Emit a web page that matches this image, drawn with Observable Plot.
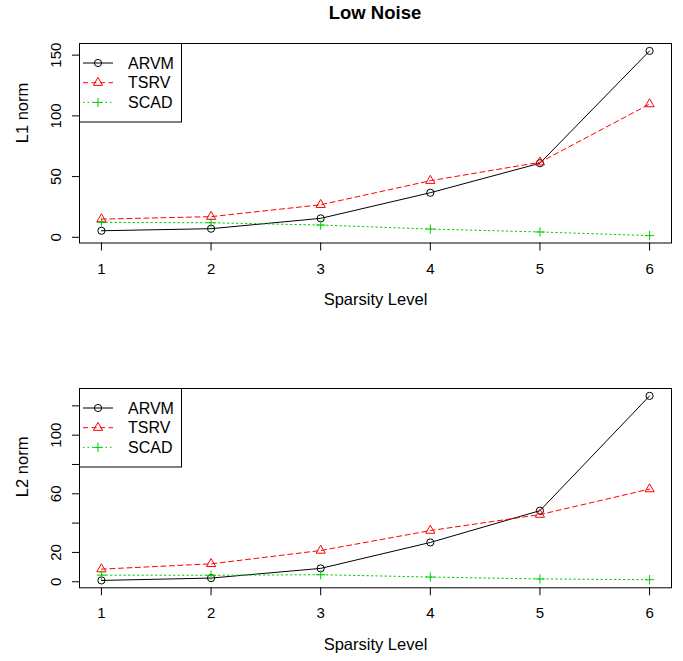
<!DOCTYPE html>
<html><head><meta charset="utf-8">
<script src="https://cdn.jsdelivr.net/npm/d3@7"></script>
<script src="https://cdn.jsdelivr.net/npm/@observablehq/plot@0.6"></script>
<style>
body{margin:0;background:#fff;font-family:"Liberation Sans",Arial,sans-serif;}
#wrap{position:relative;width:683px;height:661px;}
#title{position:absolute;left:79px;width:592px;top:3px;text-align:center;font-weight:bold;font-size:18.5px;line-height:20px;color:#000;}
svg{display:block}
</style></head><body>
<div id="wrap"><div id="p1"></div><div id="p2"></div><div id="title">Low Noise</div></div>
<script>
const sparsity = [1, 2, 3, 4, 5, 6];
const seriesNames = ["ARVM", "TSRV", "SCAD"];
const l1ARVM = [5.4, 7.1, 15.6, 36.7, 61.0, 153.5];
const l1TSRV = [15.0, 17.0, 26.8, 46.6, 61.8, 109.7];
const l1SCAD = [12.3, 12.0, 10.1, 6.8, 4.4, 1.4];
const l2ARVM = [0.9, 2.5, 9.1, 26.8, 48.5, 126.8];
const l2TSRV = [8.6, 12.2, 21.3, 34.9, 45.8, 63.2];
const l2SCAD = [4.5, 4.4, 4.8, 3.2, 1.9, 1.4];
const l1Ticks = [0, 50, 100, 150];
const l1TickLabels = [0, 50, 100, 150];
const l2Ticks = [0, 20, 40, 60, 80, 100, 120];
const l2TickLabels = [0, 20, 60, 100];
const xLabel = "Sparsity Level";

const FONT = "Liberation Sans, Arial, Helvetica, sans-serif";
const styles = {
  ARVM: {stroke: "#000000", dash: null, symbol: "circle", d3sym: d3.symbolCircle, r: 3.6},
  TSRV: {stroke: "#FF0000", dash: "5,3.5", symbol: "triangle2", d3sym: d3.symbolTriangle2, r: 4.4},
  SCAD: {stroke: "#00CD00", dash: "1.5,3", symbol: "plus", d3sym: d3.symbolPlus, r: 3.1}
};

function rExtend(vals) {
  const [lo, hi] = d3.extent(vals);
  const r = hi - lo;
  return [lo - 0.04 * r, hi + 0.04 * r];
}

function panel({ylabel, series, ticks, tickLabels, height, marginTop, marginBottom, ylabelShift}) {
  const all = [];
  seriesNames.forEach((k, j) => sparsity.forEach((s, i) => all.push({x: s, y: series[j][i], k})));
  const yDomain = rExtend(series.flat());
  const yMid = (yDomain[0] + yDomain[1]) / 2;
  const lines = seriesNames.map(k => Plot.line(all.filter(d => d.k === k), {
    x: "x", y: "y", stroke: styles[k].stroke, strokeWidth: 1,
    strokeDasharray: styles[k].dash ?? undefined
  }));
  const dots = seriesNames.map(k => Plot.dot(all.filter(d => d.k === k), {
    x: "x", y: "y", stroke: styles[k].stroke, fill: "none", strokeWidth: 1,
    symbol: styles[k].symbol, r: styles[k].r
  }));
  const svg = Plot.plot({
    width: 683, height, marginLeft: 79, marginRight: 12, marginTop, marginBottom,
    style: {fontFamily: FONT, fontSize: "15px", color: "black", background: "white", overflow: "visible"},
    x: {domain: rExtend(sparsity)},
    y: {domain: yDomain},
    marks: [
      Plot.axisX({ticks: sparsity, tickSize: 8, tickPadding: 12, fontSize: 15, tickFormat: d => String(d), label: null}),
      Plot.axisY({ticks, tickSize: 7, tickRotate: -90, tickPadding: 12, fontSize: 15,
        tickFormat: d => tickLabels.includes(d) ? String(d) : "", label: null}),
      Plot.text([xLabel], {frameAnchor: "bottom", text: d => d, dy: 50, lineAnchor: "top", fontSize: 16.5}),
      Plot.text([ylabel], {y: () => yMid, frameAnchor: "left", text: d => d, dx: -56.5, dy: ylabelShift, rotate: -90, lineAnchor: "middle", fontSize: 16.5}),
      ...lines,
      ...dots,
      Plot.frame({stroke: "black", strokeWidth: 1})
    ]
  });
  // legend (top-left, inside plot region)
  const g = d3.select(svg).append("g").attr("font-family", FONT).attr("font-size", 16).attr("text-anchor", "start");
  g.append("rect").attr("x", 79.5).attr("y", marginTop + 0.5).attr("width", 102).attr("height", 78.5)
    .attr("fill", "white").attr("stroke", "black");
  seriesNames.forEach((k, i) => {
    const st = styles[k];
    const cy = marginTop + 20 + i * 19.7;
    g.append("line").attr("x1", 83).attr("x2", 113).attr("y1", cy).attr("y2", cy)
      .attr("stroke", st.stroke).attr("stroke-dasharray", st.dash);
    g.append("path").attr("d", d3.symbol(st.d3sym, Math.PI * st.r * st.r)())
      .attr("transform", `translate(98,${cy})`).attr("fill", "none").attr("stroke", st.stroke);
    g.append("text").attr("x", 128).attr("y", cy).attr("dy", "0.36em")
      .attr("text-anchor", "start").attr("font-size", 16).attr("fill", "black").text(k);
  });
  return svg;
}

document.getElementById("p1").appendChild(panel({
  ylabel: "L1 norm", series: [l1ARVM, l1TSRV, l1SCAD], ticks: l1Ticks, tickLabels: l1TickLabels,
  height: 330, marginTop: 43, marginBottom: 87.5, ylabelShift: 0
}));
document.getElementById("p2").appendChild(panel({
  ylabel: "L2 norm", series: [l2ARVM, l2TSRV, l2SCAD], ticks: l2Ticks, tickLabels: l2TickLabels,
  height: 331, marginTop: 58, marginBottom: 73.7, ylabelShift: 9
}));
</script>
</body></html>
